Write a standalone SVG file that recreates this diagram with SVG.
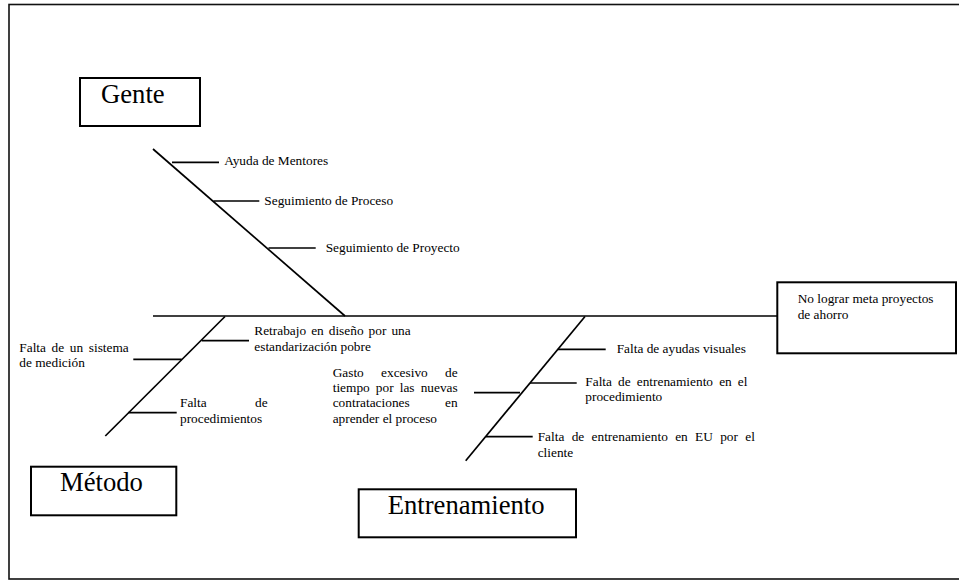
<svg xmlns="http://www.w3.org/2000/svg" width="959" height="581" viewBox="0 0 959 581">
<style>
.s{font-family:'Liberation Serif','Times New Roman',Tinos,'DejaVu Serif',serif;font-size:13.33px;fill:#000}
.b{font-family:'Liberation Serif','Times New Roman',Tinos,'DejaVu Serif',serif;font-size:26.67px;fill:#000}
.box{fill:#fff;stroke:#000;stroke-width:2}
.ln{stroke:#000;stroke-width:1.7;fill:none;stroke-linecap:butt}
</style>
<rect x="0" y="0" width="959" height="581" fill="#fff"/>
<rect x="9" y="4.5" width="960" height="574.5" fill="none" stroke="#111" stroke-width="1.6"/>
<g id="connectors">
<line class="ln" x1="153" y1="316" x2="777" y2="316"/>
<line class="ln" x1="153" y1="149" x2="345" y2="316"/>
<line class="ln" x1="172" y1="162.3" x2="219" y2="162.3"/>
<line class="ln" x1="213.5" y1="201" x2="259.3" y2="201"/>
<line class="ln" x1="268.5" y1="248" x2="315.7" y2="248"/>
<line class="ln" x1="225" y1="316.5" x2="105.3" y2="436"/>
<line class="ln" x1="201.7" y1="340.7" x2="249" y2="340.7"/>
<line class="ln" x1="133.3" y1="359.3" x2="181.7" y2="359.3"/>
<line class="ln" x1="128.3" y1="412.7" x2="176.7" y2="412.7"/>
<line class="ln" x1="585" y1="316.5" x2="465.7" y2="460.7"/>
<line class="ln" x1="557.7" y1="349.3" x2="605.7" y2="349.3"/>
<line class="ln" x1="530" y1="383" x2="576.7" y2="383"/>
<line class="ln" x1="474" y1="392.7" x2="520" y2="392.7"/>
<line class="ln" x1="486" y1="436.7" x2="532.7" y2="436.7"/>
</g>
<g id="gente">
<rect class="box" x="80" y="78" width="120" height="48"/>
<text class="b" x="101" y="103.3">Gente</text>
</g>
<g id="metodo">
<rect class="box" x="31" y="466.7" width="145.3" height="48.6"/>
<text class="b" x="60" y="491">Método</text>
</g>
<g id="entrenamiento">
<rect class="box" x="358.7" y="489.3" width="217.3" height="48"/>
<text class="b" x="387.7" y="514">Entrenamiento</text>
</g>
<g id="efecto">
<rect class="box" x="777.3" y="282.3" width="178.7" height="71"/>
<text class="s" x="797.7" y="303.3">No lograr meta proyectos</text>
<text class="s" x="797.7" y="319.3">de ahorro</text>
</g>
<g id="causas-gente">
<text class="s" x="224.3" y="165">Ayuda de Mentores</text>
<text class="s" x="264.3" y="204.5">Seguimiento de Proceso</text>
<text class="s" x="325.7" y="251.7">Seguimiento de Proyecto</text>
</g>
<g id="causas-metodo">
<text class="s" x="254.3" y="335" word-spacing="1.7">Retrabajo en diseño por una</text>
<text class="s" x="254.3" y="351">estandarización pobre</text>
<text class="s" x="19.3" y="352.3" word-spacing="2.3">Falta de un sistema</text>
<text class="s" x="19.3" y="366.7">de medición</text>
<text class="s" x="180" y="407.3">Falta</text>
<text class="s" x="267.7" y="407.3" text-anchor="end">de</text>
<text class="s" x="180" y="422.7">procedimientos</text>
</g>
<g id="causas-entrenamiento">
<text class="s" x="616.7" y="353.3">Falta de ayudas visuales</text>
<text class="s" x="585.3" y="385.7" word-spacing="2.8">Falta de entrenamiento en el</text>
<text class="s" x="585.3" y="401">procedimiento</text>
<text class="s" x="332.7" y="376.5" word-spacing="14">Gasto excesivo de</text>
<text class="s" x="332.7" y="391.8" word-spacing="2.8">tiempo por las nuevas</text>
<text class="s" x="332.7" y="407.2">contrataciones</text>
<text class="s" x="457.7" y="407.2" text-anchor="end">en</text>
<text class="s" x="332.7" y="422.5">aprender el proceso</text>
<text class="s" x="537.7" y="440.7" word-spacing="4">Falta de entrenamiento en EU por el</text>
<text class="s" x="537.7" y="456.7">cliente</text>
</g>
</svg>
